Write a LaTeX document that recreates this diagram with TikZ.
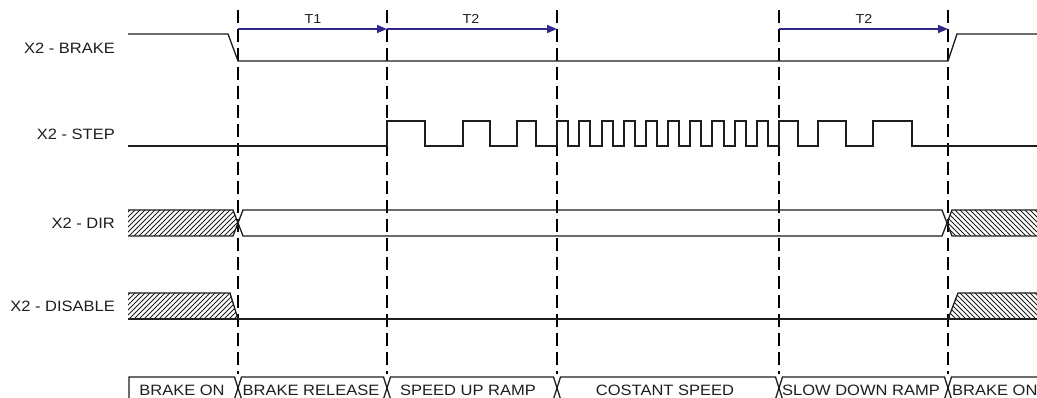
\documentclass[tikz,border=0pt]{standalone}
\usepackage{fontspec}
\setmainfont{Liberation Sans}[FakeStretch=1.1]
\usetikzlibrary{arrows.meta}
\definecolor{arrowblue}{RGB}{48,40,140}
\definecolor{sigcol}{RGB}{30,30,30}
\begin{document}
\begin{tikzpicture}[x=1pt,y=-1pt,
  sig/.style={line width=1.3pt, draw=sigcol, line join=miter},
  guide/.style={line width=2pt, black, dash pattern=on 13pt off 6pt},
  tarrow/.style={line width=1.7pt, arrowblue, -{Triangle[length=10pt,width=8pt]}},
  lbl/.style={font=\fontsize{15}{17}\selectfont, anchor=east, inner sep=0pt, text=sigcol},
  phase/.style={font=\fontsize{15}{17}\selectfont, inner sep=0pt, anchor=base, text=sigcol},
  tlbl/.style={font=\fontsize{13}{15}\selectfont, inner sep=0pt, text=sigcol},
  hatchline/.style={line width=1pt, sigcol}
]
\clip (0,0) rectangle (1037,398);
\fill[white] (0,0) rectangle (1037,398);

% guide coordinates
\foreach \n/\x in {1/238,2/387,3/557,4/779,5/948}{
  \coordinate (g\n t) at (\x,10);
  \coordinate (g\n b) at (\x,374);
  \coordinate (g\n a) at (\x,29);
}
\foreach \n in {1,...,5}{ \draw[guide] (g\n t) -- (g\n b); }

% timing arrows
\draw[tarrow] (g1a) -- (g2a);
\draw[tarrow] (g2a) -- (g3a);
\draw[tarrow] (g4a) -- (g5a);
\node[tlbl] (t1) at (313,19) {T1};
\node[tlbl] (t2a) at (471,19) {T2};
\node[tlbl] (t2b) at (864,19) {T2};

% signal labels
\node[lbl] (lbrake) at (115,48) {X2 - BRAKE};
\node[lbl] (lstep) at (115,134) {X2 - STEP};
\node[lbl] (ldir) at (115,223) {X2 - DIR};
\node[lbl] (ldis) at (115,306) {X2 - DISABLE};

% BRAKE
\draw[sig] (128,34) -- (228,34) -- (238,61) -- (948,61) -- (957,34) -- (1040,34);

% STEP
\draw[sig] (128,146) -- (387,146) |- (425,121) |- (463,146) |- (490,121) |- (517,146) |- (536,121) |- (557,146)
  |- (568,121) |- (579,146) |- (590,121) |- (602,146) |- (613,121) |- (624,146) |- (635,121) |- (646,146)
  |- (657,121) |- (668,146) |- (679,121) |- (690,146) |- (701,121) |- (712,146) |- (724,121) |- (735,146)
  |- (746,121) |- (757,146) |- (768,121) |- (779,146)
  |- (798,121) |- (818,146) |- (846,121) |- (873,146) |- (912,121) |- (1040,146);

% DIR
\begin{scope}
  \clip (128,210) -- (233,210) -- (238,223) -- (233,236) -- (128,236) -- cycle;
  \foreach \x in {90,95,...,260}{ \draw[hatchline] (\x,240) -- ++(40,-40); }
\end{scope}
\draw[sig] (128,210) -- (233,210) -- (238,223) -- (233,236) -- (128,236);
\draw[sig] (243,210) -- (942,210) -- (947,223) -- (942,236) -- (243,236) -- (238,223) -- cycle;
\begin{scope}
  \clip (952,210) -- (1040,210) -- (1040,236) -- (952,236) -- (947,223) -- cycle;
  \foreach \x in {945,950,...,1090}{ \draw[hatchline] (\x,240) -- ++(-40,-40); }
\end{scope}
\draw[sig] (1040,210) -- (952,210) -- (947,223) -- (952,236) -- (1040,236);

% DISABLE
\begin{scope}
  \clip (128,293) -- (230,293) -- (238,319) -- (128,319) -- cycle;
  \foreach \x in {90,95,...,260}{ \draw[hatchline] (\x,323) -- ++(40,-40); }
\end{scope}
\draw[sig] (128,293) -- (230,293) -- (238,319);
\draw[sig] (128,319) -- (948,319) -- (1040,319);
\begin{scope}
  \clip (948,319) -- (958,293) -- (1040,293) -- (1040,319) -- cycle;
  \foreach \x in {945,950,...,1090}{ \draw[hatchline] (\x,323) -- ++(-40,-40); }
\end{scope}
\draw[sig] (948,319) -- (958,293) -- (1040,293);

% phase bus
\draw[sig] (129,399) -- (129,377) -- (234.5,377) -- (238,388) -- (234.5,399) -- cycle;
\foreach \a/\b in {238/387,387/557,557/779,779/948}{
  \draw[sig] (\a+3.5,377) -- (\b-3.5,377) -- (\b,388) -- (\b-3.5,399) -- (\a+3.5,399) -- (\a,388) -- cycle;
}
\draw[sig] (1045,377) -- (951.5,377) -- (948,388) -- (951.5,399) -- (1045,399);

\node[phase] (p1) at (182,395) {BRAKE ON};
\node[phase] (p2) at (311,395) {BRAKE RELEASE};
\node[phase] (p3) at (468,395) {SPEED UP RAMP};
\node[phase] (p4) at (665,395) {COSTANT SPEED};
\node[phase] (p5) at (861,395) {SLOW DOWN RAMP};
\node[phase, anchor=base west] (p6) at (952,395) {BRAKE ON};
\end{tikzpicture}
\end{document}
